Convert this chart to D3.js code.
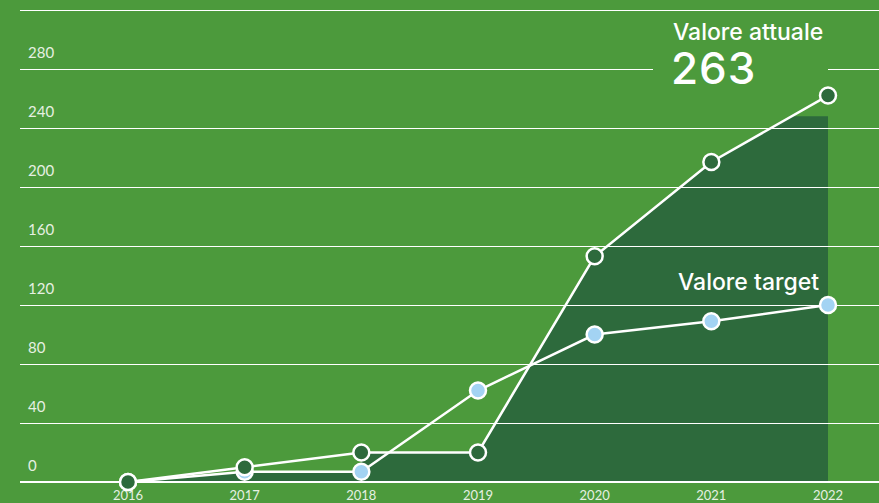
<!DOCTYPE html>
<html>
<head>
<meta charset="utf-8">
<script src="https://cdn.jsdelivr.net/npm/d3@7"></script>
<style>
    html, body { margin: 0; padding: 0; background: #4c9a3c; }
    svg { display: block; font-family: Lato, "Open Sans", sans-serif; }
</style>
</head>
<body>
<div id="chart-container"></div>
<script>
// Data
const years = [2016, 2017, 2018, 2019, 2020, 2021, 2022];
const actualValues = [0, 10, 20, 20, 153, 217, 262];
const targetValues = [0, 7, 7, 62, 100, 109, 120];
const yTicks = [0, 40, 80, 120, 160, 200, 240, 280];
const gridMax = 320;
// dark band under the lines: [year, value], capped below
const areaPoints = [[2016, 0], [2017, 7], [2018, 7], [2018, 20], [2019, 20], [2020, 153], [2021, 217], [2022, 262]];
const areaCap = 248;
const currentLabel = 'Valore attuale';
const currentValue = '263';
const targetLabel = 'Valore target';

const width = 879, height = 503;
const colors = {
    bg: '#4c9a3c',
    dark: '#2d6a3c',
    blue: '#a3d3f3',
    text: '#e6f0e2'
};

function renderChart() {
    const svg = d3.select('#chart-container').append('svg')
        .attr('width', width)
        .attr('height', height);

    svg.append('rect').attr('width', width).attr('height', height).attr('fill', colors.bg);

    const x = d3.scaleLinear().domain([2016, 2022]).range([128, 828]);
    const y = d3.scaleLinear().domain([0, gridMax]).range([482, 10]);

    // clipped dark area
    svg.append('clipPath').attr('id', 'cap')
        .append('rect')
        .attr('x', x(2016))
        .attr('y', y(areaCap))
        .attr('width', x(2022) - x(2016))
        .attr('height', y(0) - y(areaCap));

    const area = d3.area()
        .x(d => x(d[0]))
        .y0(y(0))
        .y1(d => y(d[1]));

    svg.append('path')
        .datum(areaPoints)
        .attr('d', area)
        .attr('fill', colors.dark)
        .attr('clip-path', 'url(#cap)');

    // grid
    const gridVals = yTicks.filter(v => v > 0).concat([gridMax]);
    svg.append('g').selectAll('line')
        .data(gridVals)
        .enter()
        .append('line')
        .attr('x1', 20).attr('x2', width)
        .attr('y1', d => Math.round(y(d)) + 0.5).attr('y2', d => Math.round(y(d)) + 0.5)
        .attr('stroke', '#fff')
        .attr('stroke-width', 1);

    // baseline
    svg.append('line')
        .attr('x1', 20).attr('x2', width)
        .attr('y1', y(0)).attr('y2', y(0))
        .attr('stroke', '#fff')
        .attr('stroke-width', 2);

    // y labels
    svg.append('g').selectAll('text')
        .data(yTicks)
        .enter()
        .append('text')
        .attr('x', 28)
        .attr('y', d => y(d) - 11)
        .attr('fill', colors.text)
        .attr('font-size', 15)
        .text(d => d);

    // x labels
    svg.append('g').selectAll('text')
        .data(years)
        .enter()
        .append('text')
        .attr('x', d => x(d))
        .attr('y', 500)
        .attr('text-anchor', 'middle')
        .attr('fill', colors.text)
        .attr('font-size', 13)
        .text(d => d);

    const line = d3.line()
        .x((d, i) => x(years[i]))
        .y(d => y(d));

    // target series first, actual on top
    [[targetValues, colors.blue], [actualValues, colors.dark]].forEach(([vals, fill]) => {
        svg.append('path')
            .datum(vals)
            .attr('d', line)
            .attr('fill', 'none')
            .attr('stroke', '#fff')
            .attr('stroke-width', 2.5);

        svg.append('g').selectAll('circle')
            .data(vals)
            .enter()
            .append('circle')
            .attr('cx', (d, i) => x(years[i]))
            .attr('cy', d => y(d))
            .attr('r', 8)
            .attr('fill', fill)
            .attr('stroke', '#fff')
            .attr('stroke-width', 2.5);
    });

    // label box over the 280 gridline
    svg.append('rect')
        .attr('x', 653).attr('y', y(280) - 3)
        .attr('width', x(2022) - 653).attr('height', 6)
        .attr('fill', colors.bg);

    svg.append('text')
        .attr('x', 673).attr('y', 40)
        .attr('fill', '#fff')
        .attr('font-family', 'Inter, sans-serif')
        .attr('font-weight', 500)
        .attr('font-size', 23)
        .text(currentLabel);

    svg.append('text')
        .attr('x', 671).attr('y', 84)
        .attr('fill', '#fff')
        .attr('font-family', 'Inter, sans-serif')
        .attr('font-weight', 500)
        .attr('font-size', 44)
        .attr('letter-spacing', 1)
        .text(currentValue);

    svg.append('text')
        .attr('x', 819).attr('y', 290)
        .attr('text-anchor', 'end')
        .attr('fill', '#fff')
        .attr('font-family', 'Inter, sans-serif')
        .attr('font-weight', 500)
        .attr('font-size', 23)
        .text(targetLabel);
}

document.addEventListener('DOMContentLoaded', renderChart);
</script>
</body>
</html>
